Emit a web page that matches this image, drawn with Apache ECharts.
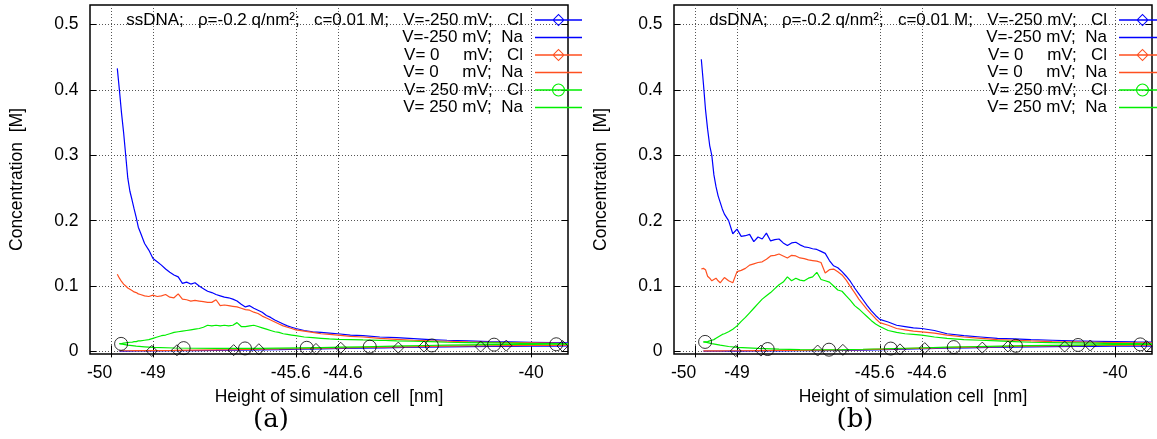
<!DOCTYPE html>
<html><head><meta charset="utf-8">
<script src="https://cdn.jsdelivr.net/npm/echarts@6/dist/echarts.min.js"></script>
<style>html,body{margin:0;padding:0;background:#fff}#c{width:1157px;height:439px}</style>
</head><body><div id="c"></div>
<script>
// ---------- tick values / labels ----------
const xTicks = [-50, -49, -45.6, -44.6, -40];
const xLabelText = ['-50', '-49', '-45.6', '-44.6', '-40'];
const xLabelPos = [-50.27, -49, -45.72, -44.48, -40];   // where the source draws each tick label
const yTicks = [0, 0.1, 0.2, 0.3, 0.4, 0.5];

// ---------- Na curves (shared x grid, nm) ----------
const xNa = [-49.85,-49.8,-49.75,-49.7,-49.65,-49.6,-49.55,-49.5,-49.45,-49.4,-49.35,-49.3,
 -49.2,-49.1,-49.0,-48.9,-48.8,-48.7,-48.6,-48.5,-48.4,-48.3,-48.2,-48.1,-48.0,
 -47.9,-47.8,-47.7,-47.6,-47.5,-47.4,-47.3,-47.2,-47.1,-47.0,
 -46.9,-46.8,-46.7,-46.6,-46.5,-46.4,-46.3,-46.2,-46.1,-46.0,
 -45.9,-45.8,-45.7,-45.6,-45.4,-45.2,-45.0,-44.8,-44.6,-44.3,-44.0,
 -43.6,-43.2,-42.8,-42.4,-42.0,-41.5,-41.0,-40.5,-40.0,-39.5,-39.12];

// panel (a) ssDNA
const ssNaNeg = [0.433,0.400,0.365,0.335,0.300,0.265,0.245,0.232,0.218,0.205,0.190,0.182,
 0.165,0.155,0.142,0.137,0.132,0.126,0.121,0.117,0.114,0.104,0.106,0.103,0.105,
 0.100,0.096,0.092,0.090,0.087,0.085,0.083,0.082,0.080,0.077,
 0.072,0.068,0.070,0.066,0.063,0.060,0.055,0.052,0.048,0.045,
 0.042,0.039,0.037,0.035,0.032,0.030,0.029,0.028,0.027,0.025,0.024,
 0.022,0.021,0.0195,0.018,0.017,0.016,0.015,0.0145,0.014,0.0135,0.013];
const ssNaZero = [0.118,0.112,0.107,0.103,0.100,0.097,0.095,0.093,0.091,0.090,0.088,0.087,
 0.085,0.084,0.086,0.084,0.085,0.087,0.083,0.082,0.088,0.080,0.079,0.077,0.078,
 0.077,0.076,0.075,0.075,0.079,0.070,0.071,0.070,0.069,0.068,
 0.066,0.064,0.063,0.060,0.058,0.054,0.051,0.048,0.045,0.042,
 0.039,0.037,0.035,0.033,0.031,0.029,0.027,0.026,0.025,0.023,0.022,
 0.020,0.0185,0.017,0.016,0.0155,0.0145,0.014,0.0135,0.013,0.0125,0.012];
const ssNaPos = [null,0.012,0.012,0.0125,0.013,0.0135,0.014,0.014,0.015,0.015,0.016,0.016,
 0.017,0.018,0.020,0.022,0.024,0.025,0.027,0.029,0.030,0.031,0.032,0.033,0.034,
 0.035,0.037,0.040,0.039,0.040,0.039,0.040,0.039,0.040,0.044,
 0.038,0.038,0.039,0.040,0.038,0.036,0.034,0.032,0.030,0.029,
 0.027,0.026,0.025,0.024,0.022,0.021,0.020,0.019,0.0185,0.018,0.0175,
 0.017,0.016,0.0155,0.015,0.014,0.0135,0.013,0.0125,0.012,0.012,0.0115];

// panel (b) dsDNA
const dsNaNeg = [0.447,0.410,0.370,0.340,0.315,0.300,0.270,0.252,0.238,0.228,0.218,0.210,
 0.200,0.180,0.187,0.176,0.177,0.179,0.168,0.175,0.172,0.181,0.169,0.171,0.172,
 0.166,0.162,0.166,0.167,0.163,0.160,0.159,0.157,0.156,0.153,
 0.150,0.139,0.131,0.128,0.122,0.115,0.107,0.097,0.088,0.079,
 0.070,0.062,0.055,0.049,0.045,0.040,0.038,0.036,0.035,0.032,0.027,
 0.024,0.022,0.020,0.019,0.018,0.017,0.016,0.0155,0.015,0.0145,0.0143];
const dsNaZero = [0.126,0.127,0.125,0.115,0.112,0.108,0.110,0.112,0.108,0.105,0.109,0.113,
 0.108,0.105,0.122,0.124,0.127,0.132,0.134,0.136,0.137,0.141,0.146,0.147,0.149,
 0.146,0.143,0.147,0.146,0.143,0.142,0.140,0.139,0.138,0.136,
 0.120,0.125,0.126,0.122,0.117,0.109,0.099,0.090,0.080,0.072,
 0.064,0.057,0.050,0.044,0.040,0.035,0.033,0.031,0.030,0.028,0.025,
 0.022,0.020,0.018,0.017,0.016,0.015,0.0145,0.014,0.0135,0.013,0.013];
const dsNaPos = [null,0.014,0.0145,0.015,0.016,0.017,0.018,0.020,0.022,0.024,0.026,0.027,
 0.030,0.034,0.039,0.046,0.052,0.059,0.066,0.073,0.080,0.085,0.090,0.096,0.102,
 0.106,0.114,0.108,0.112,0.109,0.108,0.112,0.114,0.121,0.110,
 0.108,0.106,0.100,0.094,0.092,0.085,0.078,0.070,0.065,0.059,
 0.053,0.047,0.042,0.038,0.032,0.029,0.027,0.026,0.025,0.022,0.020,
 0.018,0.017,0.016,0.015,0.014,0.0135,0.013,0.0125,0.012,0.012,0.0115];

// ---------- Cl curves (coarser x grid, nm) ----------
const xCl = [-49.8,-49.6,-49.4,-49.2,-49.0,-48.5,-48.0,-47.5,-47.0,-46.5,-46.0,-45.5,-45.0,
 -44.5,-44.0,-43.5,-43.0,-42.5,-42.0,-41.5,-41.0,-40.5,-40.0,-39.5,-39.12];
const ssClNeg = [0.0005,0.0005,0.0006,0.0006,0.0007,0.001,0.0013,0.0016,0.002,0.0024,0.0028,0.0033,0.0038,
 0.0044,0.005,0.0055,0.006,0.0064,0.0068,0.0072,0.0075,0.0078,0.008,0.0082,0.0083];
const ssClZero = [0.001,0.001,0.0011,0.0012,0.0013,0.0016,0.002,0.0024,0.0028,0.0033,0.0038,0.0043,0.0049,
 0.0055,0.006,0.0066,0.007,0.0075,0.0079,0.0083,0.0086,0.0089,0.0091,0.0093,0.0094];
const ssClPos = [0.012,0.0095,0.008,0.007,0.006,0.0052,0.0048,0.0046,0.0045,0.0046,0.0049,0.0053,0.0058,
 0.0064,0.007,0.0077,0.0084,0.009,0.0095,0.0099,0.0102,0.0105,0.0107,0.0109,0.011];
const dsClNeg = [0.0003,0.0003,0.0004,0.0004,0.0005,0.0007,0.0009,0.0011,0.0013,0.0016,0.002,0.0026,0.0033,
 0.004,0.0048,0.0055,0.006,0.0065,0.0069,0.0072,0.0075,0.0077,0.0079,0.008,0.0081];
const dsClZero = [0.0008,0.0008,0.0009,0.001,0.001,0.0012,0.0014,0.0016,0.0019,0.0023,0.0028,0.0035,0.0042,
 0.005,0.0057,0.0064,0.007,0.0075,0.008,0.0084,0.0087,0.009,0.0092,0.0094,0.0095];
const dsClPos = [0.015,0.012,0.0095,0.0075,0.006,0.0045,0.0035,0.0028,0.0025,0.0028,0.0033,0.004,0.0048,
 0.0056,0.0064,0.0071,0.0078,0.0084,0.0089,0.0093,0.0097,0.01,0.0103,0.0106,0.0108];

// ---------- sparse point markers on the Cl curves ----------
const mkDiaA_x = [-49.03,-47.08,-45.12,-43.16,-41.20,-39.25];
const mkDiaB_x = [-48.43,-46.48,-44.53,-42.55,-40.59];
const mkCirc_x = [-49.76,-48.27,-46.81,-45.34,-43.84,-42.36,-40.88,-39.40];
const ssMkA = [0.0007,0.0019,0.0037,0.0058,0.0074,0.0082];
const ssMkB = [0.0017,0.0033,0.0055,0.0074,0.0088];
const ssMkC = [0.0115,0.005,0.0045,0.0055,0.0072,0.0091,0.0103,0.0109];
const dsMkA = [0.0005,0.0013,0.0031,0.0058,0.0074,0.008];
const dsMkB = [0.0012,0.0023,0.005,0.0075,0.009];
const dsMkC = [0.0145,0.0036,0.0026,0.0043,0.0066,0.0085,0.0098,0.0107];

// ---------- texts ----------
const legendA = ['ssDNA;   ρ=-0.2 q/nm²;   c=0.01 M;   V=-250 mV;   Cl','V=-250 mV;  Na','V= 0     mV;   Cl','V= 0     mV;  Na','V= 250 mV;   Cl','V= 250 mV;  Na'];
const legendB = ['dsDNA;   ρ=-0.2 q/nm²;   c=0.01 M;   V=-250 mV;   Cl','V=-250 mV;  Na','V= 0     mV;   Cl','V= 0     mV;  Na','V= 250 mV;   Cl','V= 250 mV;  Na'];
const xTitle = 'Height of simulation cell  [nm]';
const yTitle = 'Concentration  [M]';
const panelTags = ['(a)', '(b)'];

const BLUE = '#0000ff', ORANGE = '#ff5020', GREEN = '#00ee00';
const FONT = '"Liberation Sans", Arial, Helvetica, sans-serif';

const pairs = (xs, ys) => xs.map((x, i) => [x, ys[i]]).filter(p => p[1] !== null);

const ICON_LINE = 'path://M0 0 M54 14 M7 6.25 L54 6.25 L54 7.75 L7 7.75 Z';
const ICON_DIA = 'path://M0 0 M54 14 M7 6.25 L54 6.25 L54 7.75 L7 7.75 Z M24.3 7 L30.5 0.8 L36.7 7 L30.5 13.2 Z M25.7 7 L30.5 11.8 L35.3 7 L30.5 2.2 Z';
const ICON_CIRC = 'path://M0 0 M54 14 M7 6.25 L54 6.25 L54 7.75 L7 7.75 Z M24 7 A6.5 6.5 0 1 1 37 7 A6.5 6.5 0 1 1 24 7 Z M25.1 7 A5.4 5.4 0 1 0 35.9 7 A5.4 5.4 0 1 0 25.1 7 Z';
const icons = [ICON_DIA, ICON_LINE, ICON_DIA, ICON_LINE, ICON_CIRC, ICON_LINE];

const grids = [
  {left: 90, top: 5, width: 478, height: 349},
  {left: 674, top: 5, width: 478, height: 349}
];

const tickStyle = {show: true, inside: true, length: 6, lineStyle: {color: '#000', width: 1}};
const xAxes = [], yAxes = [];
grids.forEach((g, gi) => {
  // bottom: ticks + grid lines
  xAxes.push({type: 'value', gridIndex: gi, min: -50.5, max: -39.12, position: 'bottom',
    axisLine: {show: false},
    axisTick: Object.assign({customValues: xTicks}, tickStyle),
    axisLabel: {show: false},
    splitLine: {show: true, lineStyle: {type: [1, 2], color: '#555', width: 1}}});
  // top mirror ticks
  xAxes.push({type: 'value', gridIndex: gi, min: -50.5, max: -39.12, position: 'top',
    axisLine: {show: false},
    axisTick: Object.assign({customValues: xTicks}, tickStyle),
    axisLabel: {show: false}, splitLine: {show: false}});
  // bottom: tick labels + title
  xAxes.push({type: 'value', gridIndex: gi, min: -50.5, max: -39.12, position: 'bottom',
    axisLine: {show: false}, axisTick: {show: false}, splitLine: {show: false},
    axisLabel: {customValues: xLabelPos, margin: 10, fontSize: 17.5, color: '#000', fontFamily: FONT,
      formatter: v => {
        let bi = 0;
        xLabelPos.forEach((p, i) => { if (Math.abs(p - v) < Math.abs(xLabelPos[bi] - v)) bi = i; });
        return xLabelText[bi];
      }},
    name: xTitle, nameLocation: 'middle', nameGap: 34,
    nameTextStyle: {fontSize: 17.5, color: '#000', fontFamily: FONT}});
  yAxes.push({type: 'value', gridIndex: gi, min: -0.004, max: 0.53, position: 'left',
    axisLine: {show: false},
    axisTick: Object.assign({customValues: yTicks}, tickStyle),
    axisLabel: {customValues: yTicks, margin: 11.5, fontSize: 17.5, color: '#000', fontFamily: FONT},
    splitLine: {show: true, lineStyle: {type: [1, 2], color: '#555', width: 1}},
    name: yTitle, nameLocation: 'middle', nameGap: 64,
    nameTextStyle: {fontSize: 17.5, color: '#000', fontFamily: FONT}});
  yAxes.push({type: 'value', gridIndex: gi, min: -0.004, max: 0.53, position: 'right',
    axisLine: {show: false},
    axisTick: Object.assign({customValues: yTicks}, tickStyle),
    axisLabel: {show: false}, splitLine: {show: false}});
});

function lineS(name, xs, ys, color, gi) {
  return {type: 'line', name, xAxisIndex: gi * 3, yAxisIndex: gi * 2, data: pairs(xs, ys),
    symbol: 'none', showSymbol: false, color, lineStyle: {width: 1.2, color}, itemStyle: {color},
    animation: false, silent: true, z: 2};
}
function markS(name, xs, ys, sym, size, gi) {
  return {type: 'scatter', name, xAxisIndex: gi * 3, yAxisIndex: gi * 2, data: pairs(xs, ys),
    symbol: sym, symbolSize: size,
    itemStyle: {color: 'rgba(0,0,0,0)', borderColor: '#000', borderWidth: 1},
    animation: false, silent: true, z: 3};
}

const prefixes = ['a|', 'b|'];
const series = [];
[[legendA, [ssClNeg, ssNaNeg, ssClZero, ssNaZero, ssClPos, ssNaPos], [ssMkA, ssMkB, ssMkC]],
 [legendB, [dsClNeg, dsNaNeg, dsClZero, dsNaZero, dsClPos, dsNaPos], [dsMkA, dsMkB, dsMkC]]]
.forEach(([names, d, mk], gi) => {
  const p = prefixes[gi];
  series.push(lineS(p + names[0], xCl, d[0], BLUE, gi));
  series.push(markS('mkA' + gi, mkDiaA_x, mk[0], 'diamond', 11, gi));
  series.push(lineS(p + names[1], xNa, d[1], BLUE, gi));
  series.push(lineS(p + names[2], xCl, d[2], ORANGE, gi));
  series.push(markS('mkB' + gi, mkDiaB_x, mk[1], 'diamond', 11, gi));
  series.push(lineS(p + names[3], xNa, d[3], ORANGE, gi));
  series.push(lineS(p + names[4], xCl, d[4], GREEN, gi));
  series.push(markS('mkC' + gi, mkCirc_x, mk[2], 'circle', 13, gi));
  series.push(lineS(p + names[5], xNa, d[5], GREEN, gi));
});

const legends = [[legendA, 575, 'a|'], [legendB, -9, 'b|']].map(([names, right, p]) => ({
  orient: 'vertical', align: 'right', right, top: 11.25, padding: 0, itemGap: 0,
  itemWidth: 54, itemHeight: 14, selectedMode: false,
  itemStyle: {borderWidth: 0},
  formatter: n => n.slice(2),
  textStyle: {fontSize: 17, color: '#000', fontFamily: FONT, lineHeight: 17.5},
  data: names.map((n, i) => ({name: p + n, icon: icons[i]}))
}));

const chart = echarts.init(document.getElementById('c'), null, {renderer: 'canvas'});
chart.setOption({
  backgroundColor: '#fff',
  animation: false,
  grid: grids.map(g => Object.assign({show: true, borderColor: '#000', borderWidth: 1.5, backgroundColor: 'transparent'}, g)),
  xAxis: xAxes,
  yAxis: yAxes,
  legend: legends,
  series,
  graphic: panelTags.map((t, i) => ({type: 'text', x: 271 + 584 * i, y: 420,
    style: {text: t, font: '26px "DejaVu Serif", "Liberation Serif", serif', fill: '#000',
      align: 'center', verticalAlign: 'middle', textAlign: 'center', textVerticalAlign: 'middle'}}))
});
</script>
</body></html>
